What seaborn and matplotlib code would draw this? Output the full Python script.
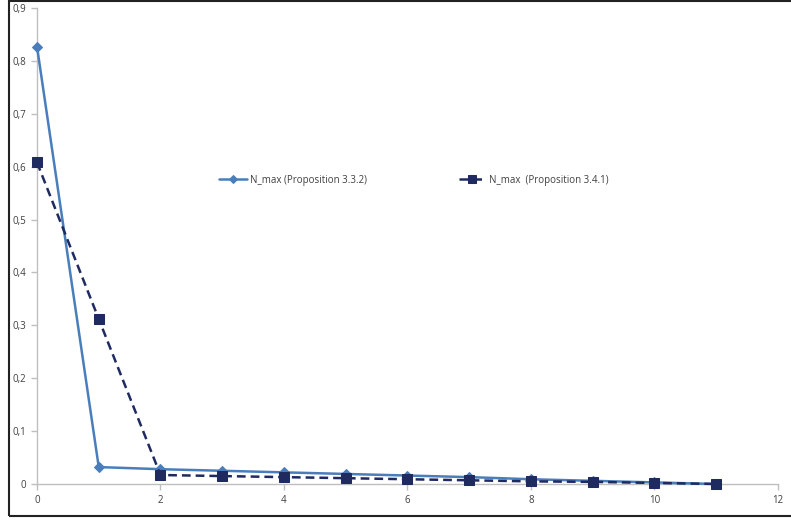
import matplotlib
matplotlib.use("Agg")
import matplotlib.pyplot as plt
import seaborn as sns
import pandas as pd
from matplotlib.patches import Rectangle
from matplotlib.ticker import FuncFormatter

x_vals = [0, 1, 2, 3, 4, 5, 6, 7, 8, 9, 10, 11]
series1 = [0.827, 0.032, 0.028, 0.025, 0.022, 0.019, 0.016, 0.013, 0.009, 0.006, 0.003, 0.0]
series2 = [0.608, 0.312, 0.017, 0.015, 0.013, 0.011, 0.009, 0.007, 0.005, 0.004, 0.002, 0.0]
label1 = "N_max (Proposition 3.3.2)"
label2 = "N_max  (Proposition 3.4.1)"
x_ticks = [0, 2, 4, 6, 8, 10, 12]
y_ticks = [0, 0.1, 0.2, 0.3, 0.4, 0.5, 0.6, 0.7, 0.8, 0.9]

sns.set_theme(style="white")
plt.rcParams['font.family'] = ['Open Sans', 'DejaVu Sans']

fig = plt.figure(figsize=(7.91, 5.21), dpi=100)
ax = fig.add_axes([37/791, 37/521, (778-37)/791, (484-8)/521])

df1 = pd.DataFrame({"x": x_vals, "y": series1})
df2 = pd.DataFrame({"x": x_vals, "y": series2})

c1 = "#4A7EBB"
c2 = "#1F2A60"
sns.lineplot(data=df1, x="x", y="y", ax=ax, color=c1, linewidth=1.8,
             marker="D", markersize=5.5, markeredgecolor=c1, label=label1,
             clip_on=False)
sns.lineplot(data=df2, x="x", y="y", ax=ax, color=c2, linewidth=1.8,
             linestyle=(0, (3.5, 2)), marker="s", markersize=7.5,
             markeredgecolor=c2, label=label2, clip_on=False)

ax.set_xlim(0, 12)
ax.set_ylim(0, 0.9)
ax.set_xticks(x_ticks)
ax.set_yticks(y_ticks)
fmt = FuncFormatter(lambda v, p: ("%g" % round(v, 2)).replace(".", ","))
ax.yaxis.set_major_formatter(fmt)
ax.set_xlabel("")
ax.set_ylabel("")
for s in ["top", "right"]:
    ax.spines[s].set_visible(False)
for s in ["left", "bottom"]:
    ax.spines[s].set_color("#BFBFBF")
    ax.spines[s].set_linewidth(1.0)
    ax.spines[s].set_zorder(0)
ax.tick_params(axis="both", which="major", direction="out", length=4,
               width=1.0, color="#BFBFBF", labelsize=7, labelcolor="#404040",
               left=True, bottom=True, pad=4)
ax.patch.set_alpha(0)

leg = ax.legend(loc="center", bbox_to_anchor=(414/791, (521-180)/521),
                bbox_transform=fig.transFigure, ncol=2, frameon=False,
                fontsize=7, columnspacing=9.5, handlelength=2.8,
                handletextpad=0.3, markerscale=0.8)
for t in leg.get_texts():
    t.set_color("#404040")

fig.patches.append(Rectangle((9/791, 5/521), 1.0, (520-5)/521,
                             transform=fig.transFigure, fill=False,
                             edgecolor="#222222", linewidth=1.5,
                             clip_on=False))

fig.savefig("out.png", dpi=100)
